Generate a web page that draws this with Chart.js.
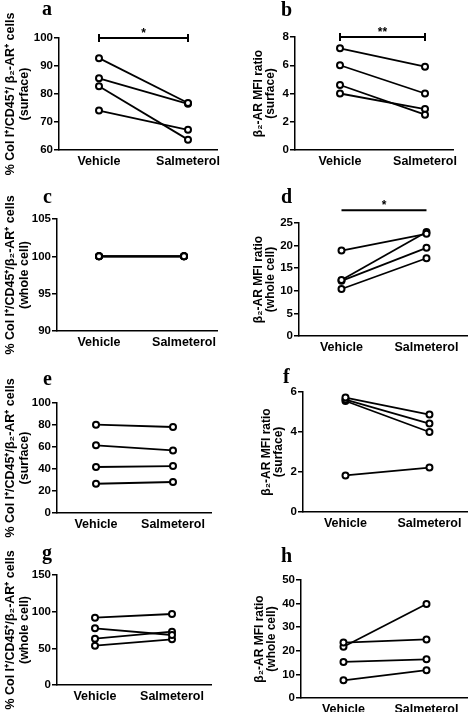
<!DOCTYPE html>
<html><head><meta charset="utf-8">
<script src="https://cdn.jsdelivr.net/npm/chart.js@4.4.1/dist/chart.umd.min.js"></script>
<style>
html,body{margin:0;padding:0;background:#fff;}
body{width:473px;height:712px;position:relative;overflow:hidden;}
.p{position:absolute;}
.lbl{position:absolute;font-family:'Liberation Serif','Times New Roman',serif;font-weight:bold;font-size:20px;line-height:20px;color:#000;white-space:nowrap;}
</style></head><body>
<script>
// ---------- data ----------
const categories = ['Vehicle', 'Salmeterol'];

const aVehicle    = [92.8, 85.6, 82.8, 74.1];
const aSalmeterol = [76.8, 76.5, 63.7, 67.2];
const aSig = 100;

const bVehicle    = [7.2, 6.0, 4.6, 4.0];
const bSalmeterol = [5.9, 4.0, 2.5, 2.9];
const bSig = 8;

const cVehicle    = [100, 100, 100, 100];
const cSalmeterol = [100, 100, 100, 100];

const dVehicle    = [18.9, 12.4, 12.2, 10.4];
const dSalmeterol = [22.6, 23.0, 19.5, 17.2];
const dSig = 27.8;

const eVehicle    = [80.3, 61.5, 41.8, 26.6];
const eSalmeterol = [78.2, 56.9, 42.7, 28.2];

const fVehicle    = [5.72, 5.62, 5.55, 1.83];
const fSalmeterol = [4.87, 4.42, 4.0, 2.22];

const gVehicle    = [91.8, 77.3, 63.2, 53.6];
const gSalmeterol = [96.8, 68.2, 72.7, 62.3];

const hVehicle    = [23.5, 21.7, 15.3, 7.5];
const hSalmeterol = [24.8, 39.8, 16.4, 11.8];

const yTicks = { a:[60,100,10], b:[0,8,2], c:[90,105,5], d:[0,25,5], e:[0,100,20], f:[0,6,2], g:[0,150,50], h:[0,50,10] };

const leftTitleSurfaceA = ['% Col I\u207A/CD45\u207A/ \u03B2\u2082-AR\u207A cells', '(surface)'];
const leftTitleSurface  = ['% Col I\u207A/CD45\u207A/\u03B2\u2082-AR\u207A cells', '(surface)'];
const leftTitleWhole    = ['% Col I\u207A/CD45\u207A/\u03B2\u2082-AR\u207A cells', '(whole cell)'];
const rightTitleSurface = ['\u03B2\u2082-AR MFI ratio', '(surface)'];
const rightTitleWhole   = ['\u03B2\u2082-AR MFI ratio', '(whole cell)'];

// ---------- layout (page pixels) ----------
const panels = [
  {key:'a', box:[0,0,236,190],   area:[59,38,217,150],  xPix:[99,188],  title:leftTitleSurfaceA, tx:10.5, veh:aVehicle, sal:aSalmeterol, sig:aSig, sigText:'*',  lab:[42,15]},
  {key:'b', box:[236,0,237,190], area:[295,37,453,150], xPix:[340,425], title:rightTitleSurface, tx:258.5, veh:bVehicle, sal:bSalmeterol, sig:bSig, sigText:'**', lab:[281,16]},
  {key:'c', box:[0,170,236,195], area:[57,219,217,331], xPix:[99,184],  title:leftTitleWhole,    tx:11, veh:cVehicle, sal:cSalmeterol, lab:[43,203]},
  {key:'d', box:[236,170,237,195], area:[299,223,469,336], xPix:[342,428], title:rightTitleWhole, tx:258.5, veh:dVehicle, sal:dSalmeterol, sig:dSig, sigText:'*', lab:[281,203]},
  {key:'e', box:[0,345,236,200], area:[57,403,211,513], xPix:[96,173],  title:leftTitleSurface,  tx:11, veh:eVehicle, sal:eSalmeterol, lab:[43,385]},
  {key:'f', box:[236,345,237,200], area:[303,392,469,512], xPix:[346,431], title:rightTitleSurface, tx:267, veh:fVehicle, sal:fSalmeterol, lab:[283,383]},
  {key:'g', box:[0,525,236,187], area:[57,575,211,685], xPix:[95,172],  title:leftTitleWhole,    tx:11, veh:gVehicle, sal:gSalmeterol, lab:[42,559]},
  {key:'h', box:[236,525,237,187], area:[301,580,469,698], xPix:[344,428], title:rightTitleWhole, tx:260, veh:hVehicle, sal:hSalmeterol, lab:[281,562]},
];

const FONT = "'Liberation Sans', Arial, Helvetica, sans-serif";
Chart.defaults.font.family = FONT;
Chart.defaults.font.weight = 'bold';
Chart.defaults.color = '#000';

const sigTextPlugin = {
  id: 'sigText',
  afterDatasetsDraw(chart, args, opts) {
    if (!opts || !opts.text) return;
    const x = chart.scales.x, y = chart.scales.y;
    const px = (x.getPixelForValue(0) + x.getPixelForValue(1)) / 2;
    const py = y.getPixelForValue(opts.value);
    const ctx = chart.ctx;
    ctx.save();
    ctx.font = 'bold 12px ' + FONT;
    ctx.fillStyle = '#000';
    ctx.textAlign = 'center';
    ctx.textBaseline = 'alphabetic';
    ctx.fillText(opts.text, px, py - 1);
    ctx.restore();
  }
};
Chart.register(sigTextPlugin);

panels.forEach(p => {
  const [bx, by, bw, bh] = p.box;
  const [l, t, r, b] = p.area;
  const [V, S] = p.xPix;
  const unit = S - V;
  const xmin = -(V - l) / unit;
  const xmax = 1 + (r - S) / unit;
  const [ymin, ymax, ystep] = yTicks[p.key];
  const isLeft = bx === 0;
  const tFont = isLeft ? 12.5 : 12;
  const tLine = isLeft ? 1.1 : 1.0;

  const div = document.createElement('div');
  div.className = 'p';
  div.style.left = bx + 'px'; div.style.top = by + 'px';
  div.style.width = bw + 'px'; div.style.height = bh + 'px';
  const cv = document.createElement('canvas');
  cv.width = bw; cv.height = bh;
  cv.style.width = bw + 'px'; cv.style.height = bh + 'px';
  div.appendChild(cv);
  document.body.appendChild(div);

  const datasets = p.veh.map((v, i) => ({
    data: [{x: 0, y: v}, {x: 1, y: p.sal[i]}],
    borderColor: '#000',
    borderWidth: 1.8,
    pointRadius: 3,
    pointBorderWidth: 2,
    pointBackgroundColor: '#fff',
    pointBorderColor: '#000',
    pointStyle: 'circle',
    clip: false
  }));
  if (p.sig !== undefined) {
    datasets.push({
      data: [{x: 0, y: p.sig}, {x: 1, y: p.sig}],
      borderColor: '#000',
      borderWidth: 2,
      pointStyle: 'line',
      rotation: 90,
      pointRadius: 4,
      pointBorderWidth: 2,
      pointBorderColor: '#000',
      clip: false
    });
  }

  new Chart(cv, {
    type: 'line',
    data: { datasets },
    options: {
      responsive: false,
      animation: false,
      events: [],
      layout: { padding: { left: 0, top: t - by, right: bx + bw - r, bottom: 0 } },
      plugins: {
        legend: { display: false },
        tooltip: { enabled: false },
        sigText: p.sig !== undefined ? { text: p.sigText, value: p.sig } : {}
      },
      scales: {
        x: {
          type: 'linear',
          min: xmin, max: xmax,
          afterBuildTicks: s => { s.ticks = [{value: 0}, {value: 1}]; },
          afterFit: s => { s.height = by + bh - b; },
          ticks: {
            autoSkip: false, maxRotation: 0, minRotation: 0, padding: 4,
            font: { size: 12.5, weight: 'bold' }, color: '#000',
            callback: v => categories[v]
          },
          grid: { display: false, drawTicks: false },
          border: { display: true, color: '#000', width: 1.5 }
        },
        y: {
          type: 'linear',
          min: ymin, max: ymax,
          afterFit: s => { s.width = l - bx; },
          ticks: { stepSize: ystep, padding: 1, font: { size: 11.5, weight: 'bold' }, color: '#000' },
          grid: { display: true, drawOnChartArea: false, drawTicks: true, tickLength: 5, color: '#000', lineWidth: 1.5 },
          border: { display: true, color: '#000', width: 1.5 },
          title: {
            display: true,
            text: p.title,
            color: '#000',
            font: { size: tFont, weight: 'bold', lineHeight: tLine },
            padding: { top: p.tx - bx - tFont * tLine / 2, bottom: 0 }
          }
        }
      }
    }
  });

  const lab = document.createElement('div');
  lab.className = 'lbl';
  lab.textContent = p.key;
  lab.style.left = p.lab[0] + 'px';
  lab.style.top = (p.lab[1] - 16.75) + 'px';
  document.body.appendChild(lab);
});
</script>
</body></html>
